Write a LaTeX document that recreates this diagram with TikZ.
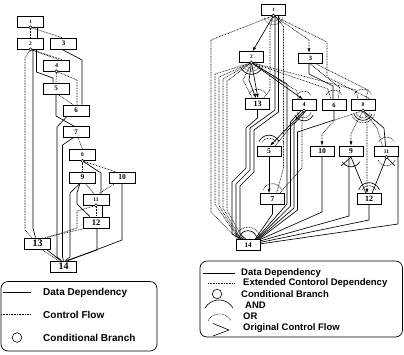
\documentclass[tikz,border=0pt]{standalone}
\usepackage{fontspec}
\setmainfont{Liberation Serif}
\newfontfamily\legfont{Liberation Sans}
\usetikzlibrary{arrows.meta}
\newcommand\myarc[6][]{\draw[#1] plot[domain=#5:#6,samples=24,variable=\t] ({#2+#4*cos(\t)},{#3+#4*sin(\t)});}
\begin{document}
\begin{tikzpicture}[x=1pt,y=-1pt,
 box/.style={draw,line width=0.8pt,minimum width=26pt,minimum height=11pt,inner sep=0pt,fill=white},
 rbox/.style={box,minimum width=24pt,minimum height=10.5pt},
 fs/.style={font=\bfseries\fontsize{#1}{#1}\selectfont},
 dd/.style={line width=0.65pt},
 cf/.style={line width=0.6pt,dash pattern=on 0.8pt off 0.8pt},
 cb/.style={draw,circle,line width=0.5pt,inner sep=0pt,minimum size=3.2pt,fill=white},
 arr/.style={-{Latex[length=4.5pt,width=3pt]}},
 lg/.style={anchor=west,inner sep=0pt,font=\legfont\bfseries\fontsize{#1}{#1}\selectfont},
]
\useasboundingbox (0,0) rectangle (404,354);

% ---------------- left graph nodes
\node[box,fs=5] (l1) at (30.5,21.5) {1};
\node[box,fs=5.5] (l2) at (30.5,43.5) {2};
\node[box,fs=7] (l3) at (63.5,43.5) {3};
\node[box,fs=6] (l4) at (56.5,65.5) {4};
\node[box,fs=7] (l5) at (56,88.5) {5};
\node[box,fs=7] (l6) at (76,110.5) {6};
\node[box,fs=7] (l7) at (76,132) {7};
\node[box,fs=5.5] (l8) at (82.5,155) {8};
\node[box,fs=7.5] (l9) at (82.5,177.5) {9};
\node[box,fs=7.5] (l10) at (122,177.5) {10};
\node[box,fs=5.5] (l11) at (96,199.5) {11};
\node[box,fs=8.5] (l12) at (96,222.5) {12};
\node[box,fs=10] (l13) at (37.5,243.5) {13};
\node[box,fs=10] (l14) at (63.5,266.5) {14};
\coordinate (l1c) at (l1.south);
\coordinate (l2c) at (l2.south);
\coordinate (l4c) at (l4.south);
\coordinate (l8c) at (l8.south);
\coordinate (l11c) at (l11.south);

% left data dependencies
\draw[dd] ([xshift=6.5pt]l1.south) -- ([xshift=6.5pt]l2.north);
\draw[dd] ([xshift=6pt]l2.south) -- (36.5,72) -- (53,78) -- ([xshift=-3pt]l5.north);
\draw[dd] ([xshift=2.5pt]l2.south) -- (33,228) -- ([xshift=-2pt]l13.north);
\draw[dd] ([xshift=-1.5pt]l3.south) -- (82,60) -- ([xshift=6pt]l6.north);
\draw[dd] (l5.south) -- (56,116) -- ([xshift=-2pt]l7.north);
\draw[dd] ([xshift=-9pt]l6.south) -- (57,127) -- (57,257) -- ([xshift=-2pt]l14.north);
\draw[dd] ([xshift=-3pt]l7.south) -- (62.5,145) -- (62.5,257) -- (l14.north);
\draw[dd] (l8c) -- (101,173) -- ([xshift=5pt]l11.north);
\draw[dd] ([xshift=-2.5pt]l9.south) -- (70,193) -- (70,257) -- ([xshift=1.5pt]l14.north);
\draw[dd] ([xshift=-2.5pt]l9.south) -- (77,193) -- (77,204) -- ([xshift=-6pt]l12.north);
\draw[dd] ([xshift=6pt]l11.south) -- ([xshift=6pt]l12.north);
\draw[dd] ([xshift=1pt]l12.south) -- (97,250) -- ([xshift=3pt]l14.north);
\draw[dd] (l10.south) -- (122,240) -- ([xshift=4.5pt]l14.north);
\draw[dd] ([xshift=9pt]l13.south) -- ([xshift=-3pt]l14.north);

% left control flow
\draw[cf] (l1c) -- (l2.north);
\draw[cf] (l1c) -- ([xshift=-1.5pt]l3.north);
\draw[cf] (l2c) -- (25,58) -- (25,230) -- ([xshift=-5.5pt]l13.north);
\draw[cf] (l2c) -- ([xshift=2pt]l4.north);
\draw[cf] (l2c) -- ([xshift=6pt]l4.north);
\draw[cf] (l4c) -- (l5.north);
\draw[cf] (l4c) -- (77,80) -- ([xshift=1pt]l6.north);
\draw[cf] ([xshift=2pt]l5.south) -- ([xshift=-3pt]l6.north);
\draw[cf] ([xshift=2pt]l7.south) -- (l8.north);
\draw[cf] (l8c) -- (l9.north);
\draw[cf] (l8c) -- ([xshift=-7pt]l10.north);
\draw[cf] ([xshift=3pt]l9.south) -- ([xshift=-2pt]l11.north);
\draw[cf] ([xshift=-7pt]l10.south) -- ([xshift=3pt]l11.north);
\draw[cf] (l11c) -- (l12.north);
\draw[cf] (l11c) -- (77,211) -- (77,228) -- ([xshift=10pt]l13.north);
\draw[cf] ([xshift=-11pt]l12.south) -- ([xshift=7pt]l13.north);
\draw[cf] ([xshift=4pt]l13.south) -- ([xshift=-5pt]l14.north);

% ---------------- right graph nodes
\node[rbox,fs=5] (r1) at (273.5,10) {1};
\node[rbox,fs=5.5] (r2) at (251.5,57) {2};
\node[rbox,fs=6.5] (r3) at (310.5,58.5) {3};
\node[rbox,fs=8] (r13) at (257.5,104) {13};
\node[rbox,fs=6] (r4) at (304,105) {4};
\node[rbox,fs=6.5] (r6) at (334,105) {6};
\node[rbox,fs=5.5] (r8) at (363,105) {8};
\node[rbox,fs=7.5] (r5) at (269,151.5) {5};
\node[rbox,fs=7.5] (r10) at (322,151.5) {10};
\node[rbox,fs=7.5] (r9) at (351,151.5) {9};
\node[rbox,fs=5.5] (r11) at (386.5,151.5) {11};
\node[rbox,fs=7.5] (r7) at (272.5,199) {7};
\node[rbox,fs=8] (r12) at (369,199) {12};
\node[rbox,fs=7] (r14) at (248,245) {14};
\coordinate (r1c) at (r1.south);
\coordinate (r2c) at (r2.south);
\coordinate (r4c) at (r4.south);
\coordinate (r8c) at (r8.south);
\coordinate (r11c) at (r11.south);

% right data dependencies
\draw[dd,arr] (r1c) -- ([xshift=1pt]r2.north);
\draw[dd] ([xshift=1.5pt]r1.south) -- (275,110) -- (250,128) -- (250,170) -- (236,184) -- (236,234) -- ([xshift=-4pt]r14.north);
\draw[dd] ([xshift=5pt]r1.south) -- (278.5,112) -- (254,130) -- (254,172) -- (240,186) -- (240,234) -- ([xshift=-2pt]r14.north);
\draw[dd] (r13.south) -- (257.5,118) -- (246,128) -- (246,168) -- (232,182) -- (232,234) -- ([xshift=-6pt]r14.north);
\draw[dd,arr] (r2c) -- (249,80) -- ([xshift=-1.5pt]r13.north);
\draw[dd,arr] (r2c) -- ([xshift=0.5pt]r13.north);
\draw[dd,arr] (r2c) -- ([xshift=-1pt]r4.north);
\draw[dd] (r2c) -- (287,84) -- (287,204) -- ([xshift=8pt]r14.north);
\draw[dd,arr] (r4c) -- ([xshift=1pt]r5.north);
\draw[dd] ([xshift=-3pt]r4.south) -- (290.5,122) -- (290.5,206) -- ([xshift=9pt]r14.north);
\draw[dd] ([xshift=2pt]r4.south) -- (294,124) -- (294,208) -- ([xshift=10pt]r14.north);
\draw[dd] (r6.south) -- (334,120) -- (297.5,132) -- (297.5,210) -- ([xshift=11pt]r14.north);
\draw[dd] ([xshift=-1.5pt]r3.south) -- (309,74) -- (333,86) -- ([xshift=-1pt]r6.north);
\draw[dd,arr] (r5.south) -- ([xshift=-3.5pt]r7.north);
\draw[dd] (r7.south) -- (272.5,214) -- ([xshift=7pt]r14.north);
\draw[dd] (r10.south) -- (322,212) -- (r14.north east);
\draw[dd] ([xshift=-2pt]r9.south) -- (349,216) -- ([yshift=-1.5pt]r14.north east);
\draw[dd] (r12.south) -- (369,220) -- ([yshift=-3pt]r14.north east);
\draw[dd] ([xshift=11.5pt]r11.south) -- (398,224) -- ([yshift=-4.5pt]r14.north east);
\draw[dd] (r8c) -- (384,128) -- ([xshift=-1pt]r11.north);
\draw[dd] (r9.south) -- ([xshift=-3pt]r12.north);
\draw[dd] (r9.south) -- (341,166);
\draw[dd] (r11c) -- ([xshift=3pt]r12.north);
\draw[dd] (r11c) -- (395,166);

% right extended control dependencies
\draw[cf,arr] (r1c) -- (309,40) -- ([xshift=-1.5pt]r3.north);
\draw[cf] (r1c) -- (211,40) -- (211,212) -- ([xshift=-10pt]r14.north);
\draw[cf] (r1c) -- (327,42) -- (327,77) -- ([xshift=8pt]r8.north);
\draw[cf] (r1c) -- (270,28) -- (270,90) -- ([xshift=6pt]r13.north);
\draw[cf] (r1c) -- (283.5,26) -- (283.5,168) -- ([xshift=4pt]r7.north);
\draw[cf] (r2c) -- (215,74) -- (215,204) -- ([xshift=-9pt]r14.north);
\draw[cf] (r2c) -- (219,77) -- (219,206) -- ([xshift=-8pt]r14.north);
\draw[cf] (r2c) -- (223,79) -- (223,208) -- ([xshift=-7pt]r14.north);
\draw[cf] (r2c) -- (227,81) -- (227,210) -- ([xshift=-5pt]r14.north);
\draw[cf] (r2c) -- (243,80) -- ([xshift=-5pt]r13.north);
\draw[cf] (r2c) -- (297,91) -- ([xshift=-6pt]r4.north);
\draw[cf] (r2c) -- (328,89) -- ([xshift=-3pt]r6.north);
\draw[cf] (r2c) -- (356,90) -- ([xshift=-5pt]r8.north);
\draw[cf] (r3.south) -- (340,88) -- ([xshift=4pt]r6.north);
\draw[cf] ([xshift=6pt]r3.south) -- (368,90) -- ([xshift=3pt]r8.north);
\draw[cf] (r4c) -- ([xshift=6pt]r5.north);
\draw[cf] (r4c) -- (302,122) -- (302,168) -- ([xshift=7pt]r7.north);
\draw[cf,arr] (r8c) -- (335,120) -- (322,134) -- (r10.north);
\draw[cf,arr] (r8c) -- (357,122) -- (351,134) -- (r9.north);
\draw[cf,arr] (r8c) -- (367,118) -- ([xshift=-2pt]r12.north);
\draw[cf] (r8c) -- (377,128) -- ([xshift=-4pt]r11.north);

% AND / OR arcs
\myarc[cf]{273.5}{15.25}{6}{15}{165}
\myarc[cf]{273.5}{15.25}{9.5}{15}{165}
\myarc[cf]{251.5}{62.25}{6}{15}{165}
\myarc[cf]{251.5}{62.25}{9}{15}{165}
\myarc[dd]{251.5}{62.25}{12}{25}{155}
\myarc[cf]{304}{110.75}{7}{15}{165}
\myarc[dd]{304}{110.75}{10}{25}{155}
\myarc[cf]{363}{110.75}{7}{15}{165}
\myarc[dd]{363}{110.75}{9.5}{20}{160}
\myarc[cf]{363}{110.75}{12}{15}{165}
\myarc[cf]{386.5}{156.75}{9}{20}{160}
\myarc[dd]{351}{156.75}{10}{30}{150}
\myarc[cf]{257.5}{99.25}{10}{210}{330}
\myarc[cf]{304}{99.25}{8}{210}{330}
\myarc[cf]{334}{99.25}{9}{210}{330}
\myarc[cf]{363}{99.25}{10}{210}{330}
\myarc[cf]{386.5}{146.25}{9}{210}{330}
\myarc[dd]{269}{146.25}{11}{205}{335}
\myarc[cf]{269}{146.25}{8}{210}{330}
\myarc[cf]{272.5}{193.75}{10}{205}{335}
\myarc[dd]{369}{193.75}{11}{200}{340}
\myarc[cf]{369}{193.75}{8}{210}{330}
\myarc[dd]{248}{239.75}{9}{195}{345}
\myarc[cf]{248}{239.75}{12.5}{195}{345}

% conditional branch circles
\node[cb] (l1o) at (l1c) {};
\node[cb] (l2o) at (l2c) {};
\node[cb] (l4o) at (l4c) {};
\node[cb] (l8o) at (l8c) {};
\node[cb] (l11o) at (l11c) {};
\node[cb] (r1o) at (r1c) {};
\node[cb] (r2o) at (r2c) {};
\node[cb] (r4o) at (r4c) {};
\node[cb] (r8o) at (r8c) {};
\node[cb] (r11o) at (r11c) {};

% ---------------- left legend
\draw[line width=0.7pt,rounded corners=7pt] (1,281.5) rectangle (157,351);
\draw[dd] (3,292.5) -- (31,292.5);
\node[lg=10] (lt1) at (43,292.5) {Data Dependency};
\draw[cf] (1,314.5) -- (30,314.5);
\node[lg=10] (lt2) at (43,314.5) {Control Flow};
\draw[line width=0.6pt] (17,337.5) circle (4.8pt);
\node[lg=10] (lt3) at (43,337.5) {Conditional Branch};

% ---------------- right legend
\draw[line width=0.7pt,rounded corners=7pt] (200,261) rectangle (402.5,337);
\draw[dd] (203,273) -- (235,273);
\node[lg=9.5] (rt1) at (241,273) {Data Dependency};
\draw[cf] (208,283.5) -- (235,283.5);
\node[lg=9.5] (rt2) at (243,283.5) {Extended Contorol Dependency};
\draw[line width=0.6pt] (217,294) circle (4.8pt);
\node[lg=9.5] (rt3) at (241,294) {Conditional Branch};
\myarc[line width=0.6pt]{219}{316}{16}{210}{330}
\node[lg=9.5] (rt4) at (245,305) {AND};
\myarc[cf]{219.5}{327}{13}{210}{330}
\node[lg=9.5] (rt5) at (243,316.5) {OR};
\draw[line width=0.6pt] (213,323.5) -- (229,330) -- (213,336);
\node[lg=9.5] (rt6) at (243,328) {Original Control Flow};
\end{tikzpicture}
\end{document}
